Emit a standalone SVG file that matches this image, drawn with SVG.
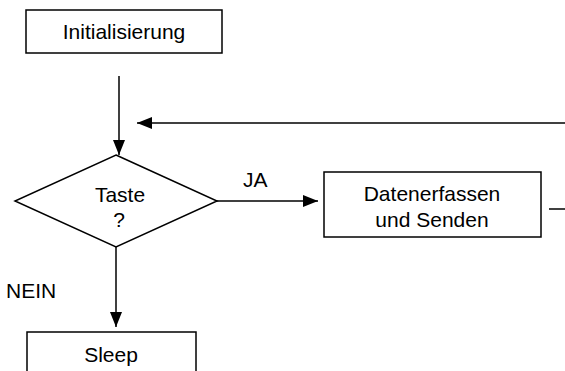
<svg xmlns="http://www.w3.org/2000/svg" width="565" height="371" viewBox="0 0 565 371">
<defs>
<style>
.box{fill:#fff;stroke:#000;stroke-width:1.5}
.ln{fill:none;stroke:#000;stroke-width:1.5}
text{font-family:"Liberation Sans",Arial,sans-serif;font-size:21px;fill:#000}
.c{text-anchor:middle}
</style>
<marker id="ah" markerWidth="15" markerHeight="12" refX="15" refY="6" orient="auto" markerUnits="userSpaceOnUse">
<path d="M0,0 L15,6 L0,12 Z" fill="#000"/>
</marker>
</defs>
<rect width="565" height="371" fill="#fff"/>
<g id="connectors">
<line class="ln" x1="119" y1="76" x2="119" y2="155" marker-end="url(#ah)"/>
<line class="ln" x1="565" y1="123" x2="137" y2="123" marker-end="url(#ah)"/>
<line class="ln" x1="217" y1="201" x2="318" y2="201" marker-end="url(#ah)"/>
<line class="ln" x1="549" y1="209" x2="565" y2="209"/>
<line class="ln" x1="116" y1="247" x2="116" y2="327" marker-end="url(#ah)"/>
<text x="243" y="187">JA</text>
<text x="6" y="298">NEIN</text>
</g>
<g id="init">
<rect class="box" x="26" y="10" width="196" height="43"/>
<text class="c" x="124" y="39">Initialisierung</text>
</g>
<g id="taste">
<polygon class="box" points="116,155 217,201 116,247 15,201"/>
<text class="c" x="120" y="202">Taste</text>
<text class="c" x="119" y="227">?</text>
</g>
<g id="daten">
<rect class="box" x="324" y="172" width="217" height="65"/>
<text class="c" x="432" y="201">Datenerfassen</text>
<text class="c" x="432" y="227">und Senden</text>
</g>
<g id="sleep">
<rect class="box" x="27" y="332" width="169" height="60"/>
<text class="c" x="111" y="362">Sleep</text>
</g>
</svg>
